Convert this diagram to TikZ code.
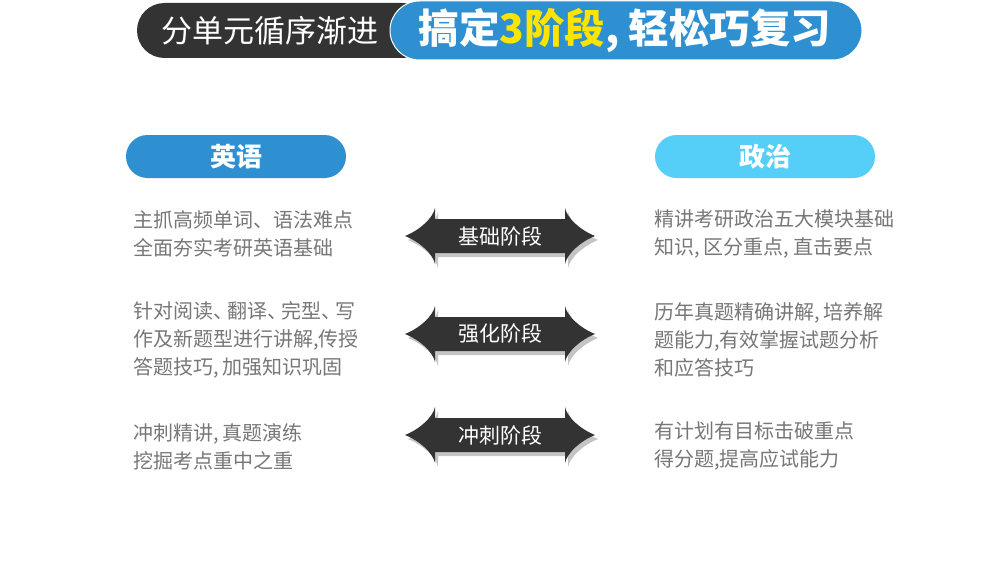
\documentclass[tikz,border=0pt]{standalone}
\usepackage{fontspec}
\setmainfont{Noto Sans CJK SC}
\definecolor{darkpill}{HTML}{333333}
\definecolor{bluepill}{HTML}{2E8FD1}
\definecolor{lightpill}{HTML}{56CFF8}
\definecolor{bodygray}{HTML}{777777}
\definecolor{hiyellow}{HTML}{FFE400}
\definecolor{arrowdark}{HTML}{333333}
\definecolor{shadowgray}{HTML}{C4C4C4}
\newcommand\cma{,\hspace{4pt}}
\newcommand\dun{\makebox[14pt][l]{、}}
\tikzset{
  bodytext/.style={anchor=west, align=left, inner sep=0pt, text=bodygray,
    font=\fontsize{20}{28}\selectfont},
  pilltext/.style={text=white, inner sep=0pt, font=\bfseries\fontsize{26}{30}\selectfont},
  stagetext/.style={text=white, inner sep=0pt, font=\fontsize{21}{24}\selectfont},
}
\newcommand\arrowpath{%
  (-95,0) .. controls (-80,-6) and (-67,-18) .. (-65,-28) -- (-65,-17) -- (65,-17) -- (65,-28)
  .. controls (67,-18) and (80,-6) .. (95,0)
  .. controls (80,6) and (67,18) .. (65,28) -- (65,17) -- (-65,17) -- (-65,28)
  .. controls (-67,18) and (-80,6) .. (-95,0) -- cycle}
\newcommand\stagearrow[3]{%
  \begin{scope}[shift={(500,#2)}]
    \fill[shadowgray, shift={(3,4)}] \arrowpath;
    \fill[arrowdark] \arrowpath;
  \end{scope}
  \node[stagetext] (#1) at (500,#2) {#3};
}
\begin{document}
\begin{tikzpicture}[x=1pt,y=-1pt]
\useasboundingbox (0,0) rectangle (1000,583);
\fill[white] (0,0) rectangle (1000,583);
% header
\fill[darkpill, rounded corners=27.5pt] (137,3) rectangle (430,58);
\fill[bluepill, draw=white, line width=1pt, rounded corners=29.5pt] (390,1) rectangle (862,60);
\node[text=white, inner sep=0pt, font=\fontsize{31}{34}\selectfont] (h1) at (270,31) {分单元循序渐进};
\node[text=white, inner sep=0pt, font=\bfseries\fontsize{40.5}{44}\selectfont] (h2) at (625,30) {搞定\textcolor{hiyellow}{3阶段}, 轻松巧复习};
% subject pills
\fill[bluepill, rounded corners=21.5pt] (126,135) rectangle (346,178);
\node[pilltext] (en) at (236,157) {英语};
\fill[lightpill, rounded corners=21.5pt] (655,135) rectangle (875,178);
\node[pilltext] (zz) at (765,157) {政治};
% texts
\node[bodytext] (l1) at (133,234) {主抓高频单词、语法难点\\全面夯实考研英语基础};
\node[bodytext] (l2) at (133,340) {针对阅读\dun 翻译\dun 完型\dun 写\\作及新题型进行讲解,传授\\答题技巧\cma 加强知识巩固};
\node[bodytext] (l3) at (133,447) {冲刺精讲\cma 真题演练\\挖掘考点重中之重};
\node[bodytext] (r1) at (654,234) {精讲考研政治五大模块基础\\知识\cma 区分重点\cma 直击要点};
\node[bodytext] (r2) at (654,340) {历年真题精确讲解\cma 培养解\\题能力,有效掌握试题分析\\和应答技巧};
\node[bodytext] (r3) at (654,446) {有计划有目标击破重点\\得分题,提高应试能力};
% arrows
\stagearrow{s1}{236}{基础阶段}
\stagearrow{s2}{334}{强化阶段}
\stagearrow{s3}{435}{冲刺阶段}
\end{tikzpicture}
\end{document}
